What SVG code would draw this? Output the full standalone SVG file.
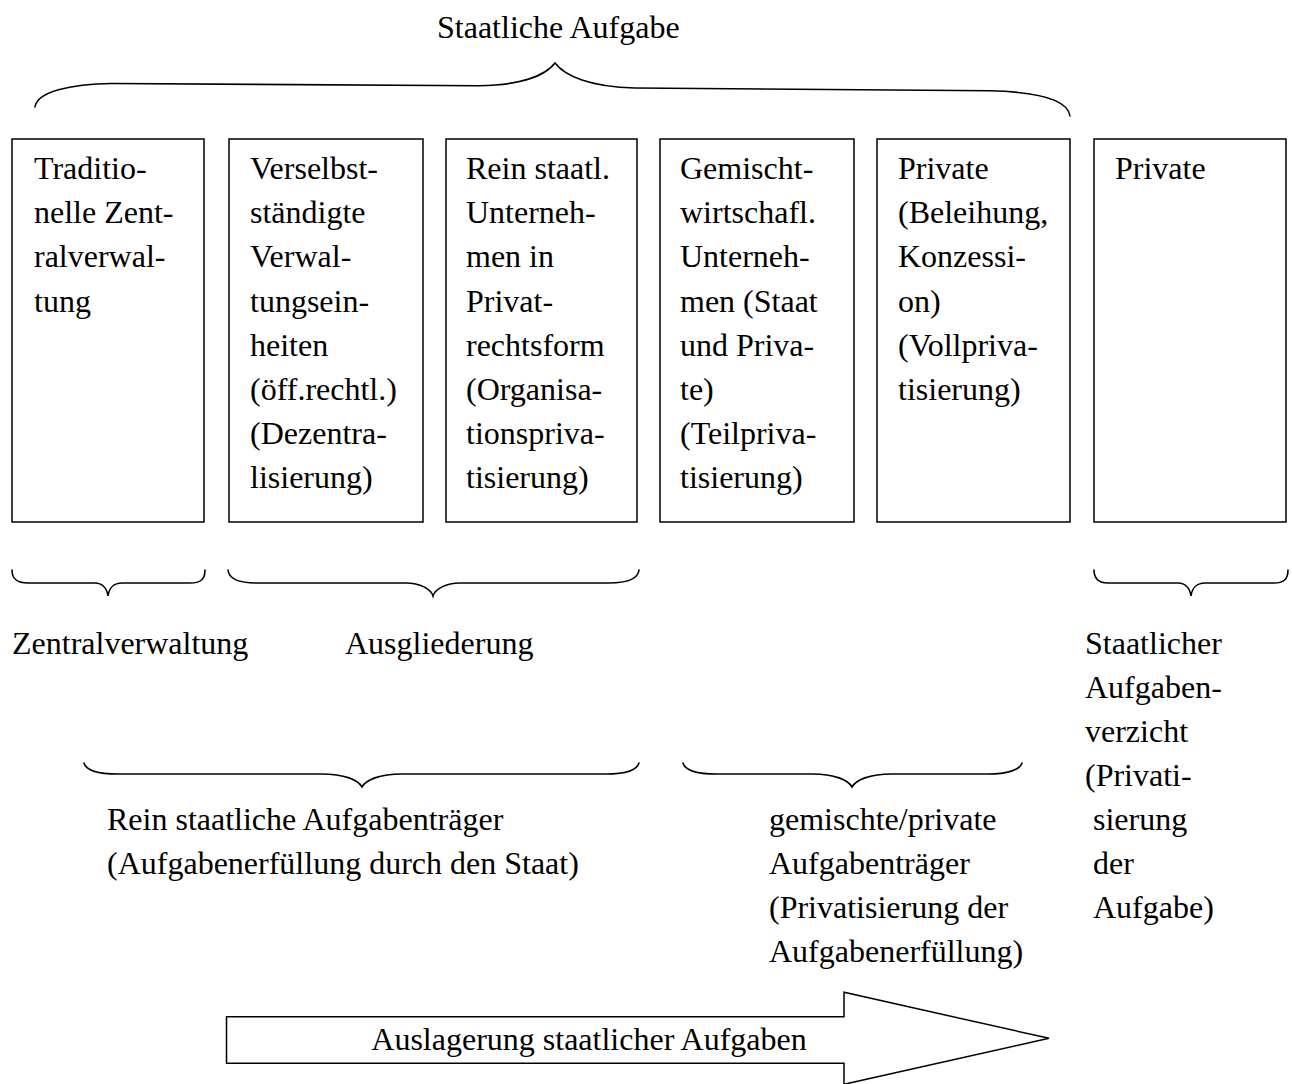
<svg xmlns="http://www.w3.org/2000/svg" width="1292" height="1084" viewBox="0 0 1292 1084">
<style>
text{font-family:"Liberation Serif","Times New Roman",serif;font-size:32px;fill:#000}
.box{fill:#fff;stroke:#000;stroke-width:1.5}
.brace{fill:none;stroke:#000;stroke-width:1.6;stroke-linecap:round}
</style>
<rect width="1292" height="1084" fill="#fff"/>
<text x="437" y="38">Staatliche Aufgabe</text>
<g id="connectors">
<path class="brace" d="M35,107 C37,92 70,84 112,83.5 L479,85.7 C520,85 545,76 555,63 C565,76 590,87 635,88 L990,90.7 C1040,92 1068,100 1070,116"/>
<path class="brace" d="M12,570 C12,580 18,583 28,583 L95,583 C102,583 107,588 108,596 C109,588 114,583 122,583 L190,583 C200,583 205,580 205,570"/>
<path class="brace" d="M228,570 C229,580 240,583 256,583 L406,583 C420,583 431,589 433,596 C435,589 446,583 460,583 L609,583 C628,583 638,579 639,570"/>
<path class="brace" d="M1094,570 C1094,580 1100,583 1108,583 L1178,583 C1185,583 1190,588 1191,596 C1192,588 1197,583 1205,583 L1274,583 C1283,583 1288,580 1288,570"/>
<path class="brace" d="M84,763 C86,771 100,774 118,774 L321,774 C345,774 358,780 362,787 C366,780 379,774 402,774 L606,774 C625,774 637,770 639,763"/>
<path class="brace" d="M683,763 C685,771 699,774 717,774 L812,774 C835,774 848,780 852,787 C856,780 869,774 892,774 L988,774 C1007,774 1020,770 1022,763"/>
</g>
<g id="node1">
<rect class="box" x="12" y="139" width="192" height="383"/>
<text x="34" y="179">Traditio-</text>
<text x="34" y="223">nelle Zent-</text>
<text x="34" y="267">ralverwal-</text>
<text x="34" y="312">tung</text>
</g>
<g id="node2">
<rect class="box" x="229" y="139" width="194" height="383"/>
<text x="250" y="179">Verselbst-</text>
<text x="250" y="223">ständigte</text>
<text x="250" y="267">Verwal-</text>
<text x="250" y="312">tungsein-</text>
<text x="250" y="356">heiten</text>
<text x="250" y="400">(öff.rechtl.)</text>
<text x="250" y="444">(Dezentra-</text>
<text x="250" y="488">lisierung)</text>
</g>
<g id="node3">
<rect class="box" x="446" y="139" width="191" height="383"/>
<text x="466" y="179">Rein staatl.</text>
<text x="466" y="223">Unterneh-</text>
<text x="466" y="267">men in</text>
<text x="466" y="312">Privat-</text>
<text x="466" y="356">rechtsform</text>
<text x="466" y="400">(Organisa-</text>
<text x="466" y="444">tionspriva-</text>
<text x="466" y="488">tisierung)</text>
</g>
<g id="node4">
<rect class="box" x="660" y="139" width="194" height="383"/>
<text x="680" y="179">Gemischt-</text>
<text x="680" y="223">wirtschafl.</text>
<text x="680" y="267">Unterneh-</text>
<text x="680" y="312">men (Staat</text>
<text x="680" y="356">und Priva-</text>
<text x="680" y="400">te)</text>
<text x="680" y="444">(Teilpriva-</text>
<text x="680" y="488">tisierung)</text>
</g>
<g id="node5">
<rect class="box" x="877" y="139" width="193" height="383"/>
<text x="898" y="179">Private</text>
<text x="898" y="223">(Beleihung,</text>
<text x="898" y="267">Konzessi-</text>
<text x="898" y="312">on)</text>
<text x="898" y="356">(Vollpriva-</text>
<text x="898" y="400">tisierung)</text>
</g>
<g id="node6">
<rect class="box" x="1094" y="139" width="192" height="383"/>
<text x="1115" y="179">Private</text>
</g>
<g id="labels">
<text x="12" y="654">Zentralverwaltung</text>
<text x="345" y="654">Ausgliederung</text>
<text x="1085" y="654">Staatlicher</text>
<text x="1085" y="698">Aufgaben-</text>
<text x="1085" y="742">verzicht</text>
<text x="1085" y="786">(Privati-</text>
<text x="1093" y="830">sierung</text>
<text x="1093" y="874">der</text>
<text x="1093" y="918">Aufgabe)</text>
<text x="107" y="830">Rein staatliche Aufgabenträger</text>
<text x="107" y="874">(Aufgabenerfüllung durch den Staat)</text>
<text x="769" y="830">gemischte/private</text>
<text x="769" y="874">Aufgabenträger</text>
<text x="769" y="918">(Privatisierung der</text>
<text x="769" y="962">Aufgabenerfüllung)</text>
</g>
<g id="arrow">
<polygon points="226.5,1016.7 844,1016.7 844,992.3 1049,1038.3 844,1084.3 844,1063.3 226.5,1063.3" fill="#fff" stroke="#000" stroke-width="1.5"/>
<text x="589" y="1050" text-anchor="middle">Auslagerung staatlicher Aufgaben</text>
</g>
</svg>
